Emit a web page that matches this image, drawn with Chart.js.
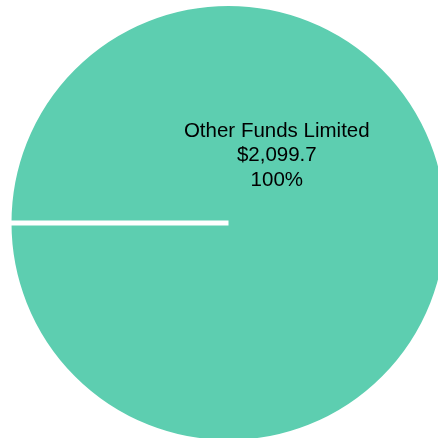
<!DOCTYPE html>
<html>
<head>
<meta charset="utf-8">
<script src="https://cdn.jsdelivr.net/npm/chart.js@4.4.0/dist/chart.umd.min.js"></script>
<style>
  html, body { margin: 0; padding: 0; background: #fff; overflow: hidden; }
  #wrap { width: 457px; height: 446px; position: relative; }
</style>
</head>
<body>
<div id="wrap"><canvas id="fundsChart" width="457" height="446"></canvas></div>
<script>
const labels = ['Other Funds Limited'];
const amounts = [2099.7];
const colours = ['#5dceb0'];

const ctx = document.getElementById('fundsChart').getContext('2d');

// Label inside the slice: name, amount, share
const sliceLabels = {
  id: 'sliceLabels',
  afterDatasetsDraw(chart) {
    const meta = chart.getDatasetMeta(0);
    const total = amounts.reduce((a, b) => a + b, 0);
    const c = chart.ctx;
    c.save();
    c.fillStyle = '#000';
    c.font = '20.5px "Liberation Sans", Arial, sans-serif';
    c.textAlign = 'center';
    c.textBaseline = 'alphabetic';
    meta.data.forEach((arc, i) => {
      const r = arc.outerRadius;
      const x = arc.x + r * 0.22;
      const y = arc.y - r * 0.394;
      const pct = Math.round(amounts[i] / total * 100) + '%';
      const amt = '$' + amounts[i].toLocaleString('en-US', { minimumFractionDigits: 1, maximumFractionDigits: 1 });
      c.fillText(labels[i], x, y);
      c.fillText(amt, x, y + 24.5);
      c.fillText(pct, x, y + 49);
    });
    c.restore();
  }
};

new Chart(ctx, {
  type: 'pie',
  data: {
    labels: labels,
    datasets: [{
      data: amounts,
      backgroundColor: colours,
      borderColor: '#ffffff',
      borderWidth: 5
    }]
  },
  options: {
    responsive: false,
    animation: false,
    rotation: -90,
    layout: { padding: 1 },
    plugins: {
      legend: { display: false },
      tooltip: { enabled: false }
    }
  },
  plugins: [sliceLabels]
});
</script>
</body>
</html>
